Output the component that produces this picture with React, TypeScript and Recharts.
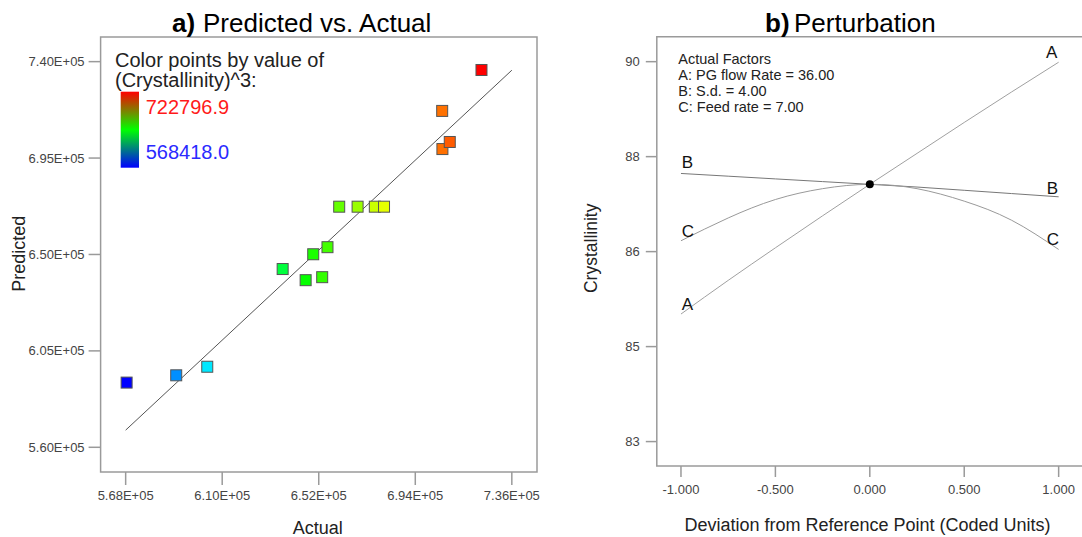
import React from 'react'
import {
  ScatterChart,
  Scatter,
  LineChart,
  Line,
  XAxis,
  YAxis,
  ReferenceArea,
  ReferenceLine,
  ReferenceDot,
} from 'recharts'

const FONT = '"Liberation Sans", Arial, sans-serif'

// a) Predicted vs. Actual, (Crystallinity)^3
const actualValues = [
  568418, 590000, 603500, 636300, 646300, 649600, 653500, 655800,
  660900, 668900, 676400, 680400, 705700, 705800, 709000, 722797,
]
const predictedValues = [
  590200, 593600, 597600, 643200, 638000, 650100, 639400, 653400,
  672300, 672300, 672300, 672300, 717000, 699200, 702500, 736100,
]
const actualTicks = [568000, 610000, 652000, 694000, 736000]
const predictedTicks = [560000, 605000, 650000, 695000, 740000]
const fitLine = [568000, 736000]
const colorMin = 568418.0
const colorMax = 722796.9

// b) Perturbation
const deviation = [-1, -0.75, -0.5, -0.25, 0, 0.25, 0.5, 0.75, 1]
const factorA = [85.35, 85.97, 86.57, 87.16, 87.74, 88.31, 88.88, 89.44, 89.99]
const factorB = [87.94, 87.89, 87.84, 87.79, 87.74, 87.69, 87.63, 87.57, 87.51]
const factorC = [86.7, 87.12, 87.46, 87.66, 87.74, 87.66, 87.43, 87.08, 86.54]
const crystTicks = [83, 84.75, 86.5, 88.25, 90]
const crystTickLabels = ['83', '85', '86', '88', '90']
const devTicks = [-1, -0.5, 0, 0.5, 1]
const refPoint = { dev: 0, value: 87.74 }

const scatterData = actualValues.map((a, i) => ({ actual: a, predicted: predictedValues[i] }))
const perturbData = deviation.map((d, i) => ({ dev: d, A: factorA[i], B: factorB[i], C: factorC[i] }))

const xDomA: [number, number] = [557100, 746950]
const yDomA: [number, number] = [548470, 751500]
const xDomB: [number, number] = [-1.128, 1.219]
const yDomB: [number, number] = [82.55, 90.46]

const FRAME = '#9a9a9a'
const TICK = { fontSize: 13, fill: '#444', fontFamily: FONT }

// 7.40E+05 style labels
const sci = (v: number) => {
  const [m, e] = v.toExponential(2).split('e')
  return `${m}E${e[0]}${e.slice(1).padStart(2, '0')}`
}

// blue -> cyan -> green -> yellow -> red by actual value
const pointColor = (v: number) => {
  const t = Math.min(1, Math.max(0, (v - colorMin) / (colorMax - colorMin)))
  return `hsl(${240 * (1 - t)}, 100%, 50%)`
}

const SquarePoint = (props: any) => {
  const { cx, cy, payload } = props
  if (cx == null || cy == null) return null
  return (
    <rect
      x={cx - 5.5}
      y={cy - 5.5}
      width={11}
      height={11}
      fill={pointColor(payload.actual)}
      stroke="#555"
      strokeWidth={1}
    />
  )
}

function PredictedVsActual() {
  return (
    <ScatterChart
      width={540}
      height={537}
      margin={{ top: 37, right: 3, bottom: 0, left: 0 }}
    >
      <XAxis
        type="number"
        dataKey="actual"
        domain={xDomA}
        allowDataOverflow
        ticks={actualTicks}
        tickFormatter={sci}
        height={65}
        tickSize={13}
        tickMargin={6}
        axisLine={false}
        tickLine={{ stroke: FRAME, strokeWidth: 1.5 }}
        tick={TICK}
        interval={0}
      />
      <YAxis
        type="number"
        dataKey="predicted"
        domain={yDomA}
        allowDataOverflow
        ticks={predictedTicks}
        tickFormatter={sci}
        width={100.6}
        tickSize={12}
        tickMargin={4}
        axisLine={false}
        tickLine={{ stroke: FRAME, strokeWidth: 1.5 }}
        tick={TICK}
        interval={0}
      />
      <ReferenceArea
        x1={xDomA[0]}
        x2={xDomA[1]}
        y1={yDomA[0]}
        y2={yDomA[1]}
        fill="none"
        fillOpacity={0}
        stroke={FRAME}
        strokeWidth={1.5}
      />
      <ReferenceLine
        segment={[
          { x: fitLine[0], y: fitLine[0] },
          { x: fitLine[1], y: fitLine[1] },
        ]}
        stroke="#555"
        strokeWidth={1}
      />
      <Scatter data={scatterData} shape={SquarePoint} isAnimationActive={false} />
    </ScatterChart>
  )
}

function Perturbation() {
  return (
    <LineChart
      width={580}
      height={537}
      data={perturbData}
      margin={{ top: 36.7, right: 20, bottom: 0, left: 0 }}
    >
      <XAxis
        type="number"
        dataKey="dev"
        domain={xDomB}
        allowDataOverflow
        ticks={devTicks}
        tickFormatter={(v: number) => v.toFixed(3)}
        height={71}
        tickSize={11}
        tickMargin={8}
        axisLine={false}
        tickLine={{ stroke: FRAME, strokeWidth: 1.5 }}
        tick={TICK}
        interval={0}
      />
      <YAxis
        type="number"
        domain={yDomB}
        allowDataOverflow
        ticks={crystTicks}
        tickFormatter={(v: number) => crystTickLabels[crystTicks.indexOf(v)]}
        width={116.8}
        tickSize={11}
        tickMargin={6}
        axisLine={false}
        tickLine={{ stroke: FRAME, strokeWidth: 1.5 }}
        tick={TICK}
        interval={0}
      />
      <ReferenceArea
        x1={xDomB[0]}
        x2={xDomB[1]}
        y1={yDomB[0]}
        y2={yDomB[1]}
        fill="none"
        fillOpacity={0}
        stroke={FRAME}
        strokeWidth={1.5}
      />
      <Line dataKey="A" type="natural" stroke="#a0a0a0" strokeWidth={1} dot={false} isAnimationActive={false} />
      <Line dataKey="B" type="natural" stroke="#777" strokeWidth={1} dot={false} isAnimationActive={false} />
      <Line dataKey="C" type="natural" stroke="#999" strokeWidth={1} dot={false} isAnimationActive={false} />
      <ReferenceDot x={refPoint.dev} y={refPoint.value} r={4} fill="#000" stroke="none" />
    </LineChart>
  )
}

export default function App() {
  return (
    <div
      style={{
        position: 'absolute',
        left: 0,
        top: 0,
        width: 1082,
        height: 537,
        overflow: 'hidden',
        background: '#fff',
        fontFamily: FONT,
      }}
    >
      <div style={{ position: 'absolute', left: 0, top: 0 }}>
        <PredictedVsActual />
      </div>
      <div style={{ position: 'absolute', left: 540, top: 0 }}>
        <Perturbation />
      </div>
      <svg
        width={1082}
        height={537}
        style={{ position: 'absolute', left: 0, top: 0, pointerEvents: 'none' }}
        fontFamily={FONT}
      >
        <defs>
          <linearGradient id="colorScale" x1="0" y1="0" x2="0" y2="1">
            <stop offset="0%" stopColor="#ff0000" />
            <stop offset="50%" stopColor="#00ff00" />
            <stop offset="100%" stopColor="#0000ff" />
          </linearGradient>
        </defs>

        {/* titles */}
        <text x={172} y={32} fontSize={26} fontWeight="bold" fill="#000">a)</text>
        <text x={203} y={32} fontSize={26} fill="#000">Predicted vs. Actual</text>
        <text x={765} y={32} fontSize={26} fontWeight="bold" fill="#000">b)</text>
        <text x={794} y={32} fontSize={26} fill="#000">Perturbation</text>

        {/* color scale legend */}
        <text x={115} y={66.7} fontSize={20} fill="#222">Color points by value of</text>
        <text x={115} y={86.7} fontSize={20} fill="#222">(Crystallinity)^3:</text>
        <rect x={120.7} y={91.7} width={18.3} height={76} fill="url(#colorScale)" />
        <text x={145.7} y={114} fontSize={20} fill="#ff1a1a">{colorMax.toFixed(1)}</text>
        <text x={145.7} y={159} fontSize={20} fill="#2a2aff">{colorMin.toFixed(1)}</text>

        {/* axis titles */}
        <text x={25} y={253.7} fontSize={18} fill="#222" textAnchor="middle" transform="rotate(-90 25 253.7)">Predicted</text>
        <text x={317.7} y={534} fontSize={18} fill="#222" textAnchor="middle">Actual</text>
        <text x={597.5} y={248.3} fontSize={17.5} fill="#222" textAnchor="middle" transform="rotate(-90 597.5 248.3)">Crystallinity</text>
        <text x={867.5} y={531} fontSize={18} fill="#222" textAnchor="middle">Deviation from Reference Point (Coded Units)</text>

        {/* factor settings */}
        <text x={678.3} y={64} fontSize={14.5} fill="#222">Actual Factors</text>
        <text x={678.3} y={80} fontSize={14.5} fill="#222">A: PG flow Rate = 36.00</text>
        <text x={678.3} y={95.7} fontSize={14.5} fill="#222">B: S.d. = 4.00</text>
        <text x={678.3} y={111.7} fontSize={14.5} fill="#222">C: Feed rate = 7.00</text>

        {/* curve labels */}
        <text x={1046} y={57.7} fontSize={17} fill="#111">A</text>
        <text x={1046.7} y={194} fontSize={17} fill="#111">B</text>
        <text x={1046.7} y={245} fontSize={17} fill="#111">C</text>
        <text x={681.7} y={310} fontSize={17} fill="#111">A</text>
        <text x={681.7} y={168.3} fontSize={17} fill="#111">B</text>
        <text x={681.7} y={236.7} fontSize={17} fill="#111">C</text>
      </svg>
    </div>
  )
}
